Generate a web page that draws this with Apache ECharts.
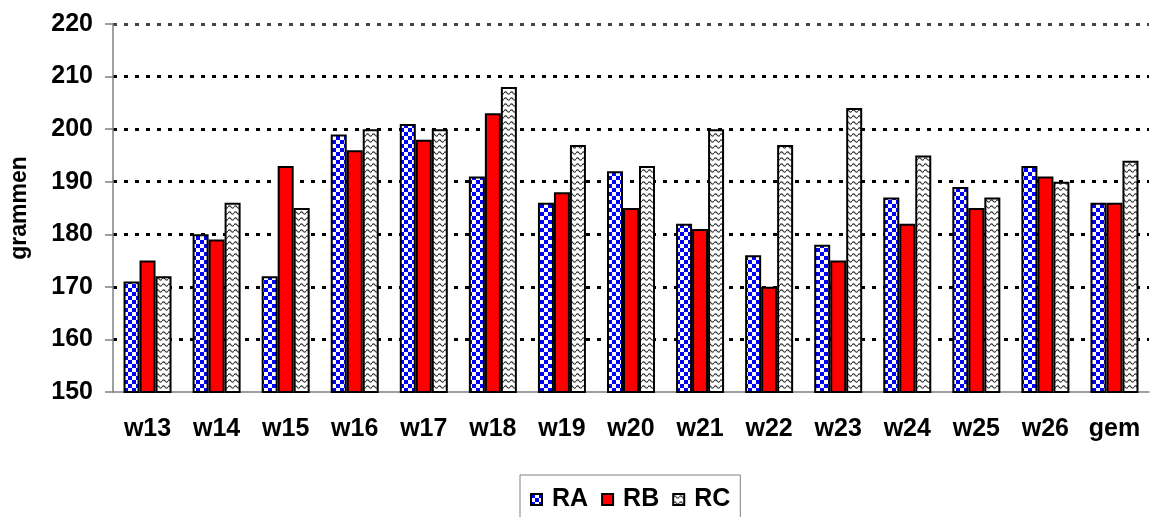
<!DOCTYPE html>
<html>
<head>
<meta charset="utf-8">
<script src="https://cdn.jsdelivr.net/npm/echarts@6/dist/echarts.min.js"></script>
<style>
  html, body { margin: 0; padding: 0; background: #fff; }
  #chart { width: 1152px; height: 517px; }
</style>
</head>
<body>
<div id="chart"></div>
<script>
const weeks = ["w13", "w14", "w15", "w16", "w17", "w18", "w19", "w20", "w21", "w22", "w23", "w24", "w25", "w26", "gem"];
const seriesNames = ["RA", "RB", "RC"];
const raValues = [171, 180, 172, 199, 201, 191, 186, 192, 182, 176, 178, 187, 189, 193, 186];
const rbValues = [175, 179, 193, 196, 198, 203, 188, 185, 181, 170, 175, 182, 185, 191, 186];
const rcValues = [172, 186, 185, 200, 200, 208, 197, 193, 200, 197, 204, 195, 187, 190, 194];
const yTicks = { min: 150, max: 220, step: 10 };

const FONT = '"Liberation Sans", Arial, sans-serif';

// fill patterns, like the old excel hatches
function checkerPattern() {
  const c = document.createElement("canvas");
  c.width = 8; c.height = 8;
  const ctx = c.getContext("2d");
  ctx.fillStyle = "#fff";
  ctx.fillRect(0, 0, 8, 8);
  ctx.fillStyle = "#0000ff";
  ctx.fillRect(0, 0, 4, 4);
  ctx.fillRect(4, 4, 4, 4);
  return { image: c, repeat: "repeat" };
}

function wavePattern() {
  const c = document.createElement("canvas");
  c.width = 6; c.height = 6;
  const ctx = c.getContext("2d");
  ctx.fillStyle = "#fff";
  ctx.fillRect(0, 0, 6, 6);
  ctx.strokeStyle = "#333";
  ctx.lineWidth = 1.2;
  ctx.beginPath();
  ctx.moveTo(0, 3);
  ctx.quadraticCurveTo(1.5, 0.8, 3, 3);
  ctx.quadraticCurveTo(4.5, 5.2, 6, 3);
  ctx.stroke();
  return { image: c, repeat: "repeat" };
}

const fills = [checkerPattern(), "#ff0000", wavePattern()];
const data = [raValues, rbValues, rcValues];

const chart = echarts.init(document.getElementById("chart"), null, { renderer: "canvas" });

chart.setOption({
  animation: false,
  backgroundColor: "#fff",
  textStyle: { fontFamily: FONT },
  grid: { left: 110, right: 3, top: 24, bottom: 125 },
  legend: {
    data: seriesNames.map(n => ({ name: n, icon: "rect" })),
    left: 520, top: 475,
    padding: [12, 10, 14, 10],
    borderColor: "#808080", borderWidth: 1,
    itemWidth: 11, itemHeight: 11, itemGap: 13,
    textStyle: { fontFamily: FONT, fontSize: 25, fontWeight: "bold", color: "#000", padding: [0, 0, 0, 5] },
  },
  xAxis: {
    type: "category",
    data: weeks,
    axisLine: { lineStyle: { color: "#808080", width: 1.5 } },
    axisTick: { length: 8, lineStyle: { color: "#808080", width: 1.5 } },
    axisLabel: { fontFamily: FONT, fontSize: 25, fontWeight: "bold", color: "#000", margin: 25 },
  },
  yAxis: {
    type: "value",
    min: yTicks.min, max: yTicks.max, interval: yTicks.step,
    name: "grammen",
    nameLocation: "middle",
    nameRotate: 90,
    nameGap: 82,
    nameTextStyle: { fontFamily: FONT, fontSize: 23, fontWeight: "bold", color: "#000" },
    axisLine: { show: true, lineStyle: { color: "#808080", width: 1.5 } },
    axisTick: { show: true, length: 8, lineStyle: { color: "#808080", width: 1.5 } },
    axisLabel: { fontFamily: FONT, fontSize: 25, fontWeight: "bold", color: "#000", margin: 20 },
    splitLine: {
      lineStyle: {
        color: ["rgba(0,0,0,0)", "#000", "#000", "#000", "#000", "#000", "#000", "#444"],
        width: 3,
        type: [4, 7],
      },
    },
  },
  series: seriesNames.map((name, i) => ({
    name,
    type: "bar",
    data: data[i],
    barWidth: 16,
    barGap: "0%",
    itemStyle: { color: fills[i], borderColor: "#000", borderWidth: 2 },
  })),
});
</script>
</body>
</html>
